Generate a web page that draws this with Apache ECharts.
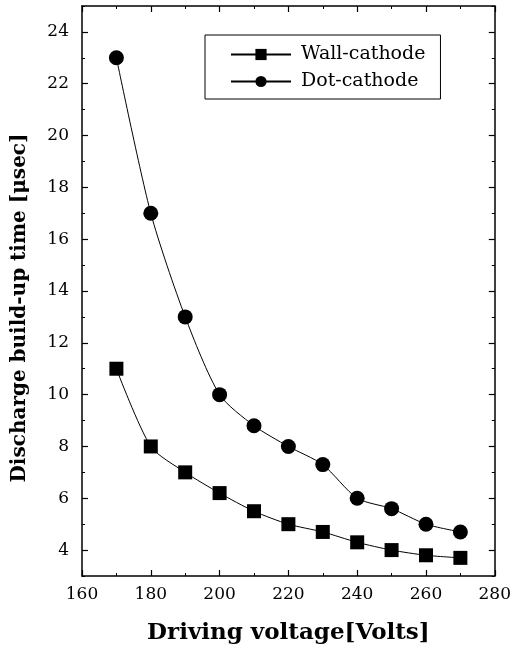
<!DOCTYPE html>
<html><head><meta charset="utf-8">
<script src="https://cdn.jsdelivr.net/npm/echarts@6/dist/echarts.min.js"></script>
<style>html,body{margin:0;padding:0;background:#fff}#c{width:514px;height:652px}</style>
</head><body><div id="c"></div>
<script>
const voltages = [170,180,190,200,210,220,230,240,250,260,270];
const wallCathode = [11.0,8.0,7.0,6.2,5.5,5.0,4.7,4.3,4.0,3.8,3.7];
const dotCathode = [23.0,17.0,13.0,10.0,8.8,8.0,7.3,6.0,5.6,5.0,4.7];
const seriesNames = ['Wall-cathode','Dot-cathode'];
const yMajorTicks = [4,6,8,10,12,14,16,18,20,22,24];
const yMinorTicks = [3,5,7,9,11,13,15,17,19,21,23,25];
const xTitle = 'Driving voltage[Volts]';
const yTitle = 'Discharge build-up time [\u03BCsec]';

const font = 'DejaVu Serif';
const pair = (xs, ys) => xs.map((x,i)=>[x, ys[i]]);
const lineBlack = {color:'#000',width:1.5};
const tickMajor = {show:true,inside:true,length:6,lineStyle:{color:'#000',width:1.2}};
const chart = echarts.init(document.getElementById('c'));

const xBase = {type:'value',min:160,max:280,interval:20,
  axisLine:{show:true,onZero:false,lineStyle:lineBlack},
  axisTick:tickMajor,
  minorTick:{show:true,splitNumber:2,length:3,lineStyle:{color:'#000',width:1}},
  splitLine:{show:false}};
const yBase = {type:'value',min:3,max:25,interval:1,
  axisLine:{show:true,onZero:false,lineStyle:lineBlack},
  axisTick:Object.assign({},tickMajor,{customValues:yMajorTicks}),
  minorTick:{show:false},
  splitLine:{show:false}};
const yMinor = {type:'value',min:3,max:25,interval:1,
  axisLine:{show:false},
  axisTick:{show:true,inside:true,length:3,customValues:yMinorTicks,lineStyle:{color:'#000',width:1}},
  axisLabel:{show:false},splitLine:{show:false}};

chart.setOption({
  animation:false,
  backgroundColor:'#fff',
  grid:{left:82,right:17,top:6,bottom:76},
  legend:{
    left:205, top:35, orient:'vertical',
    itemWidth:60, itemHeight:14, itemGap:8,
    padding:[10,15,8,25],
    borderColor:'#000', borderWidth:1,
    textStyle:{fontFamily:font,fontSize:19,color:'#000',padding:[0,0,0,5]},
    data:seriesNames
  },
  xAxis:[
    Object.assign({},xBase,{position:'bottom',
      name:xTitle,nameLocation:'middle',nameGap:46,
      nameTextStyle:{fontFamily:font,fontSize:23,fontWeight:'bold',color:'#000'},
      axisLabel:{fontFamily:font,fontSize:17,color:'#000',margin:10}}),
    Object.assign({},xBase,{position:'top',axisLabel:{show:false}})
  ],
  yAxis:[
    Object.assign({},yBase,{position:'left',
      name:yTitle,nameLocation:'middle',nameGap:52,
      nameTextStyle:{fontFamily:font,fontSize:20,fontWeight:'bold',color:'#000',padding:[0,34,0,0]},
      axisLabel:{fontFamily:font,fontSize:17,color:'#000',margin:13,customValues:yMajorTicks}}),
    Object.assign({},yBase,{position:'right',axisLabel:{show:false}}),
    Object.assign({},yMinor,{position:'left'}),
    Object.assign({},yMinor,{position:'right'})
  ],
  series:[
    {name:seriesNames[0],type:'line',data:pair(voltages,wallCathode),
      symbol:'rect',symbolSize:14,smooth:0.25,
      lineStyle:{color:'#000',width:1},itemStyle:{color:'#000'}},
    {name:seriesNames[1],type:'line',data:pair(voltages,dotCathode),
      symbol:'circle',symbolSize:15,smooth:0.25,
      lineStyle:{color:'#000',width:1},itemStyle:{color:'#000'}}
  ]
});
</script></body></html>
